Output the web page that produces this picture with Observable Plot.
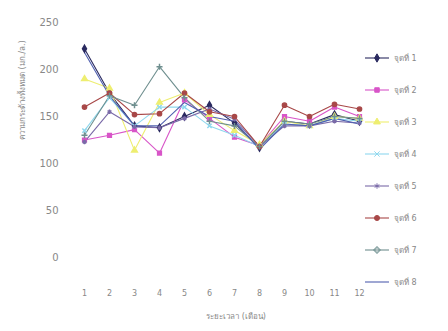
<!DOCTYPE html>
<html>
<head>
<meta charset="utf-8">
<script src="https://cdn.jsdelivr.net/npm/d3@7"></script>
<script src="https://cdn.jsdelivr.net/npm/@observablehq/plot@0.6"></script>
<style>
  body { margin: 0; background: #fff; font-family: "DejaVu Sans", "Noto Sans", sans-serif; }
  #wrap { position: relative; width: 448px; height: 331px; }
  #legend { position: absolute; left: 362px; top: 0; width: 86px; height: 331px; }
</style>
</head>
<body>
<div id="wrap"><div id="chart"></div><svg id="legend" width="86" height="331"></svg></div>
<script>
const months = [1, 2, 3, 4, 5, 6, 7, 8, 9, 10, 11, 12];
const seriesNames = ["จุดที่ 1", "จุดที่ 2", "จุดที่ 3", "จุดที่ 4", "จุดที่ 5", "จุดที่ 6", "จุดที่ 7", "จุดที่ 8"];
const s1 = [222, 175, 140, 138, 150, 162, 143, 117, 145, 142, 152, 145];
const s2 = [125, 130, 136, 111, 168, 148, 128, 119, 150, 145, 160, 150];
const s3 = [190, 180, 114, 165, 175, 152, 135, 120, 145, 140, 150, 148];
const s4 = [135, 170, 140, 160, 160, 140, 130, 118, 142, 140, 148, 145];
const s5 = [123, 155, 139, 138, 148, 158, 147, 118, 140, 140, 145, 143];
const s6 = [160, 175, 152, 153, 175, 155, 150, 118, 162, 150, 163, 158];
const s7 = [130, 172, 162, 203, 170, 145, 140, 118, 145, 142, 150, 148];
const s8 = [218, 172, 140, 140, 165, 150, 145, 115, 142, 140, 148, 142];
const yTicks = [0, 50, 100, 150, 200, 250];
const xTitle = "ระยะเวลา (เดือน)";
const yTitle = "ความกระด้างทั้งหมด (มก./ล.)";
const colors = ["#2a2a60", "#d855c8", "#eeee70", "#8fd8ee", "#7a6aa8", "#a84848", "#6f8f8f", "#5060b0"];
const symbols = ["diamond", "square", "triangle", "times", "asterisk", "circle", "plus", "circle"];

const allSeries = [s1, s2, s3, s4, s5, s6, s7, s8];
const data = [];
allSeries.forEach((vals, i) => vals.forEach((v, j) => data.push({series: seriesNames[i], month: months[j], value: v})));
const withMarkers = data.filter(d => d.series !== seriesNames[7]);

const chart = Plot.plot({
  width: 448, height: 331,
  marginTop: 22, marginBottom: 74, marginLeft: 80, marginRight: 85,
  style: {fontFamily: "DejaVu Sans, Noto Sans, sans-serif", color: "#888", background: "#fff"},
  x: {type: "point", domain: months, padding: 0, label: null},
  y: {domain: [0, 250], label: null},
  color: {domain: seriesNames, range: colors},
  symbol: {domain: seriesNames, range: symbols},
  marks: [
    Plot.axisY({ticks: yTicks, tickSize: 0, tickPadding: 22, fontSize: 10, label: null, fill: "#888"}),
    Plot.axisX({tickSize: 0, tickPadding: 33, fontSize: 8, label: null, fill: "#888"}),
    Plot.line(data, {x: "month", y: "value", z: "series", stroke: "series", strokeWidth: 1.1}),
    Plot.dot(withMarkers, {x: "month", y: "value", symbol: "series", stroke: "series", fill: "series", r: 2.1}),
    Plot.text([xTitle], {text: d => d, frameAnchor: "bottom", dy: 61, dx: 14, fontSize: 8, fill: "#888"}),
    Plot.text([yTitle], {text: d => d, frameAnchor: "left", rotate: -90, dx: -58, fontSize: 8, fill: "#888"})
  ]
});
document.getElementById("chart").appendChild(chart);

// legend
const leg = d3.select("#legend");
const symMap = {diamond: d3.symbolDiamond, square: d3.symbolSquare, triangle: d3.symbolTriangle, times: d3.symbolTimes, asterisk: d3.symbolAsterisk, circle: d3.symbolCircle, plus: d3.symbolCross};
seriesNames.forEach((name, i) => {
  const y = 58 + i * 32;
  const g = leg.append("g").attr("transform", `translate(0,${y})`);
  g.append("line").attr("x1", 3).attr("x2", 27).attr("y1", 0).attr("y2", 0).attr("stroke", colors[i]).attr("stroke-width", 1.1);
  if (i < 7) {
    const sym = symbols[i];
    const stroked = sym === "times" || sym === "asterisk" || sym === "plus";
    g.append("path").attr("transform", "translate(15,0)")
      .attr("d", d3.symbol(symMap[sym], 20)())
      .attr("fill", stroked ? "none" : colors[i]).attr("stroke", colors[i]);
  }
  g.append("text").attr("x", 32).attr("y", 3).attr("font-size", 8).attr("fill", "#888").text(name);
});
</script>
</body>
</html>
